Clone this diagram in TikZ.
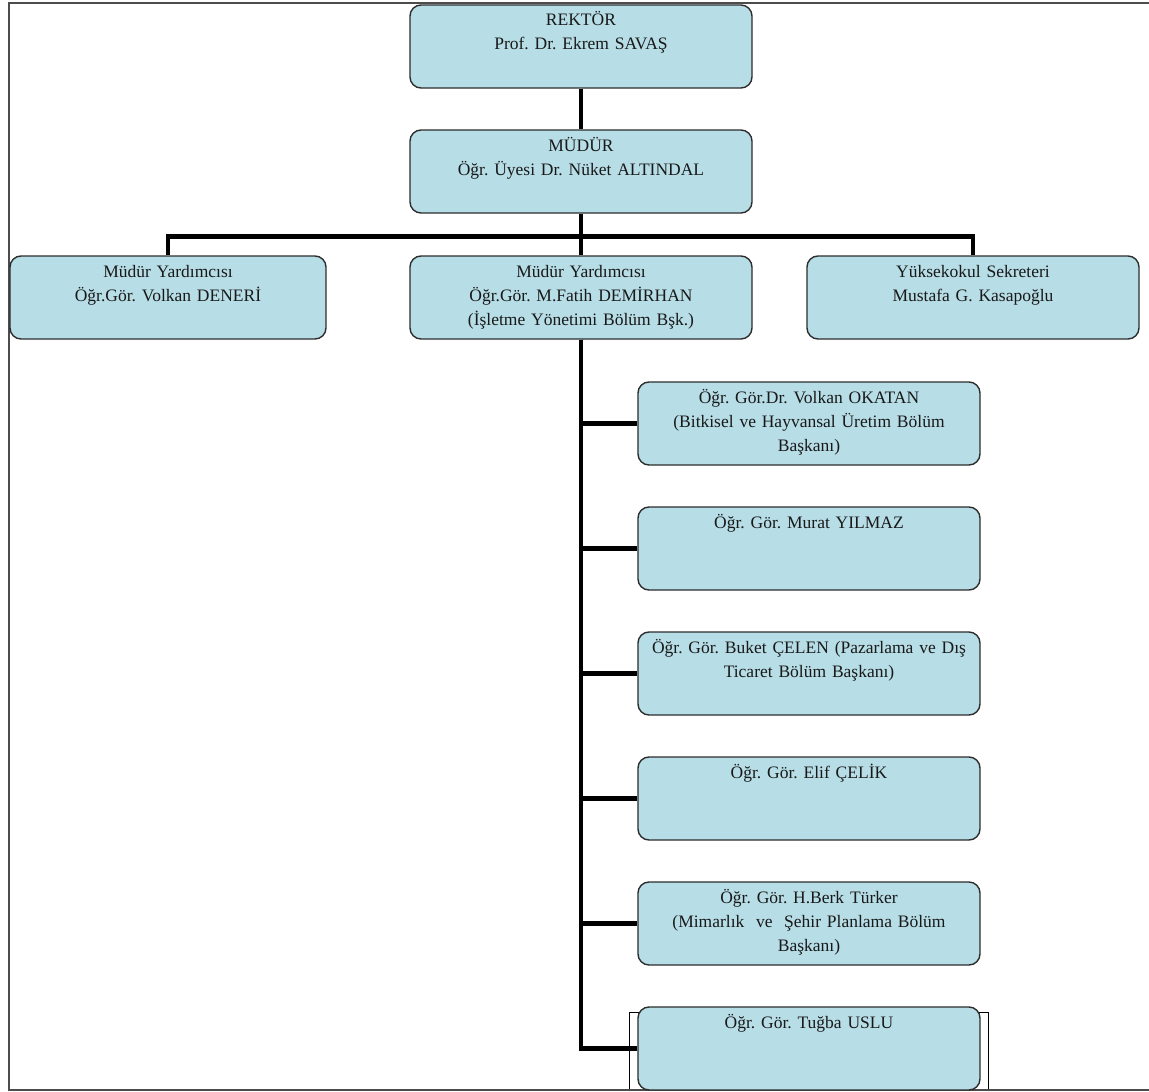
\documentclass[tikz,border=0pt]{standalone}
\usepackage{fontspec}
\setmainfont{Liberation Serif}
\usetikzlibrary{trees,backgrounds}
\definecolor{unitfill}{RGB}{183,221,230}
\definecolor{unitline}{RGB}{45,45,45}
\frenchspacing

\begin{document}
\begin{tikzpicture}[x=1pt, y=1pt,
    unitbox/.style={draw=unitline, line width=1.4pt, fill=unitfill,
      rounded corners=11pt, text width=334pt, inner xsep=4pt, inner ysep=8pt,
      text height=13pt, text depth=54pt, align=center,
      font=\fontsize{17.5}{24}\selectfont, text=black!90},
    every node/.style={unitbox},
    edge from parent/.style={draw, line width=4.5pt},
    level 1/.style={level distance=125pt},
    level 2/.style={sibling distance=400pt, level distance=126pt,
      edge from parent path={(\tikzparentnode.south) -- ++(0,-23) -| (\tikzchildnode.north)}},
    level 3/.style={grow via three points={one child at (228,-126) and
      two children at (228,-126) and (228,-251)},
      edge from parent path={(\tikzparentnode.south) |- (\tikzchildnode.west)}}]
    \useasboundingbox (-581,46.5) rectangle (568,-1045.5);
    \draw[gray!60!black, line width=2pt] (570,43.5) -- (-572,43.5) -- (-572,-1043.5) -- (570,-1043.5);
    \node (rektor) {REKT\"OR\\Prof. Dr. Ekrem SAVAŞ}
        child { node (mudur) {M\"UD\"UR\\Öğr. Üyesi Dr. Nüket ALTINDAL}
            child { node[xshift=-13pt, text width=308pt] (yrd1)
                {Müdür Yardımcısı\\Öğr.Gör. Volkan DENERİ}}
            child { node (yrd2)
                {Müdür Yardımcısı\\Öğr.Gör. M.Fatih DEMİRHAN\\(İşletme Yönetimi Bölüm Bşk.)}
                child { node (okatan) {Öğr. Gör.Dr. Volkan OKATAN\\(Bitkisel ve Hayvansal Üretim Bölüm\\Başkanı)}}
                child { node (yilmaz) {Öğr. Gör. Murat YILMAZ}}
                child { node (celen) {Öğr. Gör. Buket ÇELEN (Pazarlama ve Dış\\Ticaret Bölüm Başkanı)}}
                child { node (celik) {Öğr. Gör. Elif ÇELİK}}
                child { node (turker) {Öğr. Gör. H.Berk Türker\\(Mimarlık\ \ ve\ \ Şehir Planlama Bölüm\\Başkanı)}}
                child { node (uslu) {Öğr. Gör. Tuğba USLU}}
            }
            child { node[xshift=-8pt, text width=324pt] (sekreter)
                {Yüksekokul Sekreteri\\Mustafa G. Kasapoğlu}}
        };
    \begin{scope}[on background layer]
        \draw[line width=1.2pt] ([xshift=-8pt, yshift=-6pt]uslu.north west) rectangle ([xshift=8pt]uslu.south east);
    \end{scope}
\end{tikzpicture}
\end{document}
